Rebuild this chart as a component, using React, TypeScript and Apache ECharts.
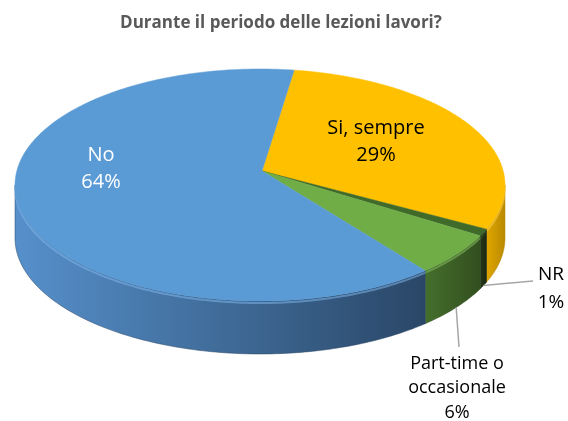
import React, { useEffect, useRef } from "react";
import * as echarts from "echarts";

const TITLE = "Durante il periodo delle lezioni lavori?";
const categories = ["Si, sempre", "NR", "Part-time o\noccasionale", "No"];
const values = [29, 1, 6, 64];
const percentLabels = ["29%", "1%", "6%", "64%"];

const topColors = ["#FFC000", "#3F6A2A", "#70AD47", "#5B9BD5"];
const sideLight = ["#E0A600", "#26391A", "#456F2C", "#5690CB"];
const sideDark = ["#B98900", "#1A2711", "#324F1F", "#2A4767"];
const rimColors = ["#FFD24D", "#3D5C28", "#86C062", "#7DB4EA"];
const labelColors = ["#000000", "#000000", "#000000", "#FFFFFF"];

// layout (not data)
const G = { cx: 260, cy: 185, rx: 245, ry: 116, h: 53, ax: 262, ay: 171, start: 8 };
const LABEL_POS: number[][] = [[376, 140], [551, 287], [457, 386], [101, 167]];
const LABEL_SIZE = [20, 19, 18, 20];
const LABEL_LH = [27, 28, 24.5, 27];
const LEADER_END: (number[] | null)[] = [null, [533, 281], [459, 347], null];

const rad = (d: number) => (d * Math.PI) / 180;
const pt = (t: number, dy = 0) => [G.cx + G.rx * Math.sin(rad(t)), G.cy - G.ry * Math.cos(rad(t)) + dy];
const arc = (a: number, b: number, dy = 0) => {
  const n = Math.max(2, Math.ceil(Math.abs(b - a) / 1));
  const pts: number[][] = [];
  for (let k = 0; k <= n; k++) pts.push(pt(a + ((b - a) * k) / n, dy));
  return pts;
};

export default function App() {
  const ref = useRef<HTMLDivElement>(null);
  useEffect(() => {
    document.body.style.margin = "0";
    const chart = echarts.init(ref.current!, undefined, { renderer: "svg" });
    const total = values.reduce((s, v) => s + v, 0);
    const spans: number[][] = [];
    let acc = G.start;
    values.forEach((v) => {
      const s = (v / total) * 360;
      spans.push([acc, acc + s]);
      acc += s;
    });
    const data = values.map((v, i) => [v, categories[i]]);

    const sides = (params: any, api: any) => {
      const i = params.dataIndex;
      const v = api.value(0);
      if (!v) return { type: "group", children: [] };
      const [a, b] = spans[i];
      const lo = Math.max(a, 90);
      const hi = Math.min(b, 270);
      if (hi <= lo) return { type: "group", children: [] };
      const top = arc(lo, hi, 0);
      const bot = arc(hi, lo, G.h);
      return {
        type: "group",
        children: [
          {
            type: "polygon",
            shape: { points: [...top, ...bot] },
            style: {
              fill: {
                type: "linear", x: 0, y: 0, x2: 1, y2: 0, global: false,
                colorStops: [{ offset: 0, color: sideLight[i] }, { offset: 1, color: sideDark[i] }],
              },
              stroke: sideDark[i], lineWidth: 0.5,
            },
          },
          {
            type: "polyline",
            shape: { points: arc(lo, hi, 2) },
            style: { stroke: rimColors[i], lineWidth: 2, fill: null, opacity: 0.55 },
          },
        ],
      };
    };

    const tops = (params: any, api: any) => {
      const i = params.dataIndex;
      const [a, b] = spans[i];
      const poly = [[G.ax, G.ay], ...arc(a, b, 0)];
      const children: any[] = [
        { type: "polygon", shape: { points: poly }, style: { fill: topColors[i], stroke: topColors[i], lineWidth: 0.5 } },
      ];
      const mid = (a + b) / 2;
      const le = LEADER_END[i];
      if (le) {
        const s = pt(mid, G.h);
        children.push({
          type: "polyline",
          z2: 5,
          shape: { points: [s, le] },
          style: { stroke: "#A6A6A6", lineWidth: 1.5, fill: null },
        });
      }
      children.push({
        type: "text",
        z2: 10,
        x: LABEL_POS[i][0],
        y: LABEL_POS[i][1],
        style: {
          text: api.value(1) + "\n" + percentLabels[i],
          fill: labelColors[i],
          fontFamily: "Open Sans",
          fontSize: LABEL_SIZE[i],
          lineHeight: LABEL_LH[i],
          align: "center",
          verticalAlign: "middle",
        },
      });
      return { type: "group", children };
    };

    chart.setOption({
      animation: false,
      title: {
        text: TITLE,
        left: 276,
        textAlign: "center",
        top: 8,
        textStyle: { fontFamily: "Open Sans", fontWeight: "bold", fontSize: 17, color: "#595959" },
      },
      series: [
        {
          type: "custom",
          coordinateSystem: "none",
          z: 1,
          silent: true,
          data,
          renderItem: sides,
        },
        {
          type: "custom",
          coordinateSystem: "none",
          z: 2,
          silent: true,
          data,
          renderItem: tops,
        },
      ],
    });
    return () => chart.dispose();
  }, []);
  return <div ref={ref} style={{ width: 568, height: 421, position: "fixed", left: 0, top: 0 }} />;
}
